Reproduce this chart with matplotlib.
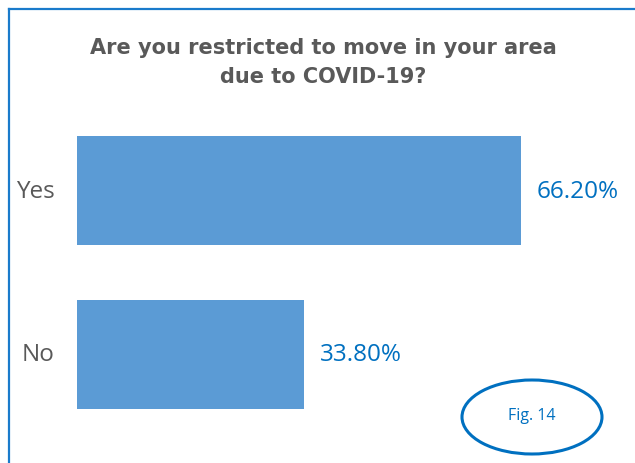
import matplotlib
matplotlib.use("Agg")
import matplotlib.pyplot as plt
from matplotlib.patches import Ellipse
from matplotlib.lines import Line2D

# chart data
categories = ["Yes", "No"]
shares     = [66.20, 33.80]
title_text = "Are you restricted to move in your area\ndue to COVID-19?"
fig_note   = "Fig. 14"

W, H = 635, 464
fig = plt.figure(figsize=(W / 100, H / 100), dpi=100)

# axes placed in pixel terms: bars start at x=77, Yes centre y=191, No centre y=355
ax_top = 110
ax = fig.add_axes([77 / W, 0, (W - 77) / W, (H - ax_top) / H])
ax.set_xlim(0, (W - 77) / 6.707)
ax.set_ylim(-(H - 355.5) / 164, 1 + (191.5 - ax_top) / 164)
ax.axis("off")

ypos = list(range(len(categories)))[::-1]
ax.barh(ypos, shares, height=109 / 164, color="#5B9BD5")

for y, cat, v in zip(ypos, categories, shares):
    ax.text(v + 2.4, y, "{:.2f}%".format(v), va="center", ha="left",
            fontsize=17.5, color="#0070C0", family="Open Sans")
    ax.text(-3.3, y, cat, va="center", ha="right",
            fontsize=17.5, color="#595959", family="Open Sans", clip_on=False)

fig.text(323 / W, 1 - 62.5 / H, title_text, ha="center", va="center",
         fontsize=15, fontweight="bold", color="#595959",
         family="DejaVu Sans", linespacing=1.6)

# frame lines (only left and top visible)
fig.add_artist(Line2D([8.5 / W, 8.5 / W], [0, 1 - 10 / H], transform=fig.transFigure,
                      color="#1A7BCB", lw=1.6))
fig.add_artist(Line2D([8.5 / W, 1], [1 - 10 / H, 1 - 10 / H], transform=fig.transFigure,
                      color="#1A7BCB", lw=1.6))

# figure tag
fig.add_artist(Ellipse((532 / W, 1 - 418 / H), 140 / W, 74 / H, transform=fig.transFigure,
                       fill=False, edgecolor="#0070C0", lw=2.2))
fig.text(532 / W, 1 - 416 / H, fig_note, ha="center", va="center",
         fontsize=11.5, color="#0070C0", family="Open Sans")

fig.savefig("out.png", dpi=100)
